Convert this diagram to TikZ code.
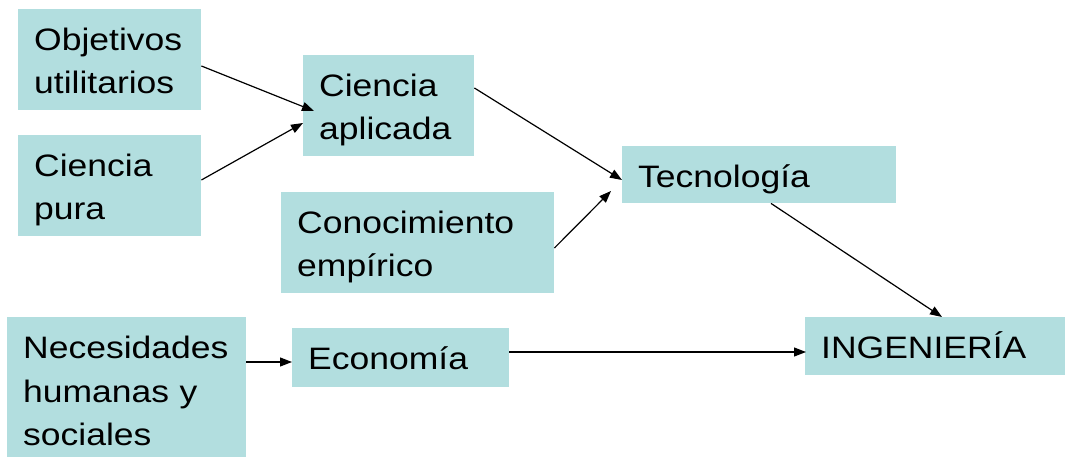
\documentclass[tikz,border=0pt]{standalone}
\usepackage{fontspec}
\setmainfont{Liberation Sans}[FakeStretch=1.145]
\usetikzlibrary{calc,arrows.meta}
\definecolor{boxfill}{RGB}{178,222,223}
\tikzset{
  x=1pt,y=-1pt,
  tbox/.style={fill=boxfill, anchor=north west, align=left, inner xsep=16pt, inner ysep=0pt,
    text height=41.5pt, font=\fontsize{31}{43.3}\selectfont},
  conn/.style={draw=black, line width=1.2pt, -{Triangle[length=12pt,width=9pt]}}
}
\begin{document}
\begin{tikzpicture}
\useasboundingbox (0,0) rectangle (1068,457);
\node[tbox, text width=151pt, text depth=59.5pt] (obj) at (18,9) {Objetivos\\utilitarios};
\node[tbox, text width=151pt, text depth=59.5pt] (cp) at (18,135) {Ciencia\\pura};
\node[tbox, text width=139pt, text depth=59.5pt] (ca) at (303,55) {Ciencia\\aplicada};
\node[tbox, text width=241pt, text depth=59.5pt] (con) at (281,192) {Conocimiento\\empírico};
\node[tbox, text width=242pt, text depth=15.5pt] (tec) at (622,146) {Tecnología};
\node[tbox, text width=207pt, text depth=98.5pt] (nec) at (7,317) {Necesidades\\humanas y\\sociales};
\node[tbox, text width=185pt, text depth=17.5pt] (eco) at (292,328) {Economía};
\node[tbox, text width=228pt, text depth=16.5pt] (ing) at (805,317) {INGENIERÍA};
\draw[conn] ($(obj.north east)+(0,57)$) -- ($(ca.north west)+(11,56)$);
\draw[conn] ($(cp.north east)+(0,45)$) -- ($(ca.north west)+(0,68)$);
\draw[conn] ($(ca.north east)+(0,33)$) -- ($(tec.north west)+(0,34)$);
\draw[conn] ($(con.north east)+(0,56)$) -- ($(tec.north west)+(-11,45)$);
\draw[conn] ($(tec.south west)+(149,0)$) -- ($(ing.north west)+(137,0)$);
\draw[conn] ($(nec.north east)+(0,45)$) -- ($(eco.north west)+(0,34)$);
\draw[conn] ($(eco.north east)+(0,24)$) -- ($(ing.north west)+(1,35)$);
\end{tikzpicture}
\end{document}
